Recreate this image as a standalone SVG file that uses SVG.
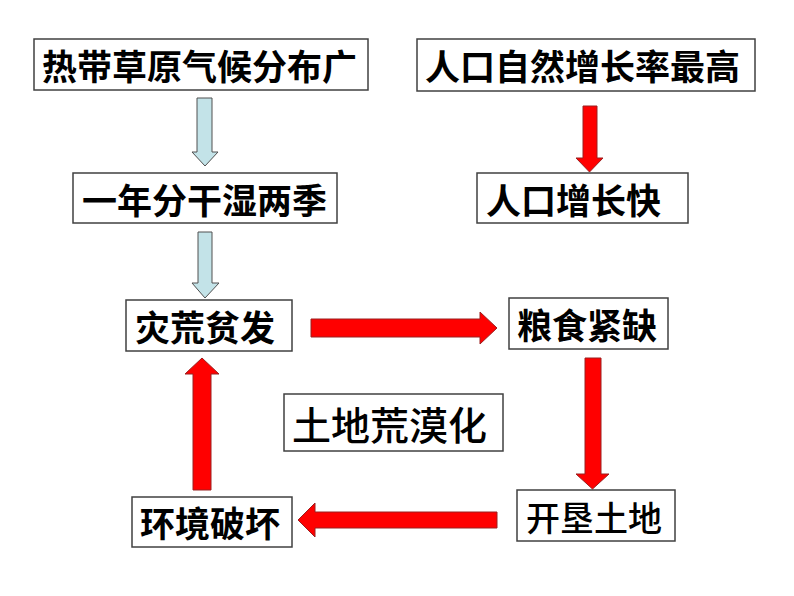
<svg xmlns="http://www.w3.org/2000/svg" width="794" height="596" viewBox="0 0 794 596">
<style>
.box{fill:#ffffff;stroke:#404040;stroke-width:1.5}
.t{font-family:"Noto Sans CJK SC","Noto Sans",sans-serif;font-size:35px;font-weight:bold;fill:#000}
.tn{font-family:"Noto Sans CJK SC","Noto Sans",sans-serif;font-weight:500;fill:#000}
.blue{fill:#c3e3e8;stroke:#505050;stroke-width:1}
.red{fill:#ff0000;stroke:#9a2020;stroke-width:1}
</style>
<rect width="794" height="596" fill="#ffffff"/>
<g id="connectors">
<polygon class="blue" points="197,98 212,98 212,152 218,152 205,166 192,152 197,152"/>
<polygon class="blue" points="198,232 212,232 212,283 219,283 205,298 192,283 198,283"/>
<polygon class="red" points="583,106 597,106 597,158 603,158 589.5,172 576,158 583,158"/>
<polygon class="red" points="585,358 601,358 601,474 609,474 592.5,489 576,474 585,474"/>
<polygon class="red" points="311,319 480,319 480,312 497,328 480,344 480,337 311,337"/>
<polygon class="red" points="497,512 315,512 315,503 298,520 315,537 315,528 497,528"/>
<polygon class="red" points="193,490 211,490 211,374 219,374 202,358 185,374 193,374"/>
</g>
<g id="n1"><rect class="box" x="34" y="39" width="334" height="51"/><text class="t" x="42" y="80">热带草原气候分布广</text></g>
<g id="n2"><rect class="box" x="417" y="39" width="338" height="52"/><text class="t" x="425" y="80">人口自然增长率最高</text></g>
<g id="n3"><rect class="box" x="73" y="173" width="264" height="50"/><text class="t" x="82" y="214">一年分干湿两季</text></g>
<g id="n4"><rect class="box" x="477" y="173" width="211" height="50"/><text class="t" x="486" y="214">人口增长快</text></g>
<g id="n5"><rect class="box" x="126" y="300" width="166" height="51"/><text class="t" x="135" y="341">灾荒贫发</text></g>
<g id="n6"><rect class="box" x="509" y="298" width="159" height="51"/><text class="t" x="517" y="339">粮食紧缺</text></g>
<g id="n7"><rect class="box" x="284" y="394" width="219" height="57"/><text class="tn" x="292" y="440" font-size="39">土地荒漠化</text></g>
<g id="n8"><rect class="box" x="517" y="490" width="158" height="51"/><text class="tn" x="526" y="531" font-size="34">开垦土地</text></g>
<g id="n9"><rect class="box" x="132" y="497" width="160" height="50"/><text class="t" x="140" y="537">环境破坏</text></g>
</svg>
